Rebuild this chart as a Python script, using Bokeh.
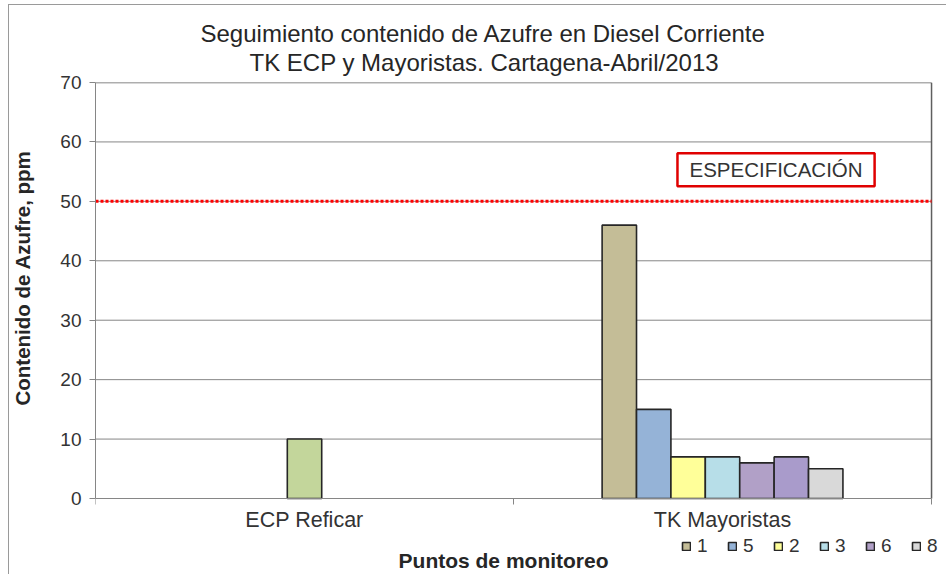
from bokeh.plotting import figure
from bokeh.models import Range1d, FixedTicker, Label, Legend, LegendItem, Title
from bokeh.embed import file_html
from bokeh.resources import INLINE

# ---------------- data ----------------
title_lines = ["Seguimiento contenido de Azufre en Diesel Corriente",
               "TK ECP y Mayoristas. Cartagena-Abril/2013"]
categories = ["ECP Reficar", "TK Mayoristas"]
ecp_category = "ECP Reficar"
ecp_value = 10
ecp_color = "#C3D69B"
tk_category = "TK Mayoristas"
tk_series = ["1", "5", "2", "3", "6", "7", "8"]
tk_values = [46, 15, 7, 7, 6, 7, 5]
tk_colors = ["#C4BD97", "#95B3D7", "#FFFF99", "#B7DEE8", "#B1A0C7", "#A99BCB", "#D9D9D9"]
legend_labels = ["1", "5", "2", "3", "6", "8"]
spec_value = 50
spec_text = "ESPECIFICACIÓN"
y_ticks = [0, 10, 20, 30, 40, 50, 60, 70]
x_label = "Puntos de monitoreo"
y_label = "Contenido de Azufre, ppm"

FONT = "Liberation Sans"
TXT = "#333333"
GRID = "#868686"
FRAME_LINE = "#9a9a9a"

# ---------------- layout (pixels, canvas coordinates) ----------------
SHIFT = 24                         # canvas starts this far left of the page margin
W, H = 962, 570
LEFT_PX, RIGHT_PX = 109, 947       # canvas x of category-axis start / end
TOP_PX, ZERO_PX = 78, 494          # canvas y of the top value line and of the 0-line
n_cat = len(categories)
y_max = y_ticks[-1]
y_min = -y_max * (H - ZERO_PX) / (ZERO_PX - TOP_PX)      # room below 0 for labels/legend
x_max = n_cat * (W - LEFT_PX) / (RIGHT_PX - LEFT_PX)     # room on the right for the legend
px_per_cat = (RIGHT_PX - LEFT_PX) / n_cat
px_per_y = (ZERO_PX - TOP_PX) / y_max

p = figure(width=W, height=H, output_backend="svg", toolbar_location=None,
           x_range=Range1d(0, x_max), y_range=Range1d(y_min, y_max),
           min_border_left=LEFT_PX, min_border_right=0, min_border_top=TOP_PX,
           min_border_bottom=0)
p.margin = (4, 0, 0, 8 - SHIFT)
p.styles = {"background": (f"linear-gradient({FRAME_LINE},{FRAME_LINE}) {SHIFT}px 0px / 100% 1px no-repeat, "
                           f"linear-gradient({FRAME_LINE},{FRAME_LINE}) {SHIFT}px 0px / 1px 100% no-repeat")}
p.background_fill_color = "white"
p.border_fill_alpha = 0
p.outline_line_color = None
p.xgrid.visible = False
p.ygrid.visible = False

# titles (left aligned with offsets so that they centre on the chart, last added is outermost)
title_offsets = [154, 105]
title_standoffs = [13, -12]
for line, off, so in zip(reversed(title_lines), title_offsets, title_standoffs):
    p.add_layout(Title(text=line, align="left", offset=off, text_font=FONT,
                       text_font_size="24px", text_font_style="normal",
                       text_color="#262626", standoff=so), "above")

# horizontal gridlines over the category span
grid_vals = y_ticks[1:-1]
p.segment(x0=[0] * len(grid_vals), y0=grid_vals, x1=[n_cat] * len(grid_vals), y1=grid_vals,
          line_color=GRID, line_width=1)

# bars
bw = 0.0823
n_slots = len(tk_series)
mid = (n_slots - 1) / 2
renderers = {}
tk_center = categories.index(tk_category) + 0.5
for i, (lab, val, col) in enumerate(zip(tk_series, tk_values, tk_colors)):
    r = p.vbar(x=[tk_center + (i - mid) * bw], top=[val], bottom=0, width=bw,
               fill_color=col, line_color="#262626", line_width=1.6)
    renderers[lab] = r
ecp_center = categories.index(ecp_category) + 0.5
p.vbar(x=[ecp_center], top=[ecp_value], bottom=0, width=bw,
       fill_color=ecp_color, line_color="#262626", line_width=1.6)

# plot-area border (top and right)
p.segment(x0=[0, n_cat], y0=[y_max, y_ticks[0]], x1=[n_cat, n_cat], y1=[y_max, y_max],
          line_color="#5f5f5f", line_width=1.5)

# specification line & label
p.segment(x0=[0], y0=[spec_value], x1=[n_cat], y1=[spec_value], line_color="#FF0000",
          line_width=3, line_dash="3 2")
p.add_layout(Label(x=tk_center + 0.128, y=spec_value + 5.3,
                   text=spec_text, text_align="center", text_baseline="middle",
                   text_font=FONT, text_font_size="20.5px", text_color=TXT,
                   border_line_color="#E00000", border_line_width=2.5,
                   background_fill_color="white", padding=dict(x=12, y=5)))

# x axis at value 0
xa = p.xaxis[0]
xa.fixed_location = 0
xa.bounds = (0, n_cat)
xa.ticker = FixedTicker(ticks=[i + 0.5 for i in range(n_cat)],
                        minor_ticks=list(range(n_cat + 1)))
xa.major_label_overrides = {i + 0.5: c for i, c in enumerate(categories)}
xa.major_tick_out = 0
xa.major_tick_in = 0
xa.minor_tick_out = 6
xa.minor_tick_in = 0
xa.minor_tick_line_color = GRID
xa.axis_line_color = GRID
xa.major_label_text_font = FONT
xa.major_label_text_font_size = "21.5px"
xa.major_label_text_color = TXT
xa.major_label_standoff = 3

# x axis title (below the category labels, slightly left of centre)
p.add_layout(Label(x=n_cat / 2 - 10 / px_per_cat, y=-62 / px_per_y, text=x_label,
                   text_align="center", text_baseline="middle", text_font=FONT,
                   text_font_size="21px", text_font_style="bold", text_color="#262626"))

# y axis limited to 0..70
ya = p.yaxis[0]
ya.bounds = (y_ticks[0], y_max)
ya.ticker = FixedTicker(ticks=y_ticks, minor_ticks=[])
ya.major_tick_out = 6
ya.major_tick_in = 0
ya.major_tick_line_color = GRID
ya.axis_line_color = GRID
ya.major_label_text_font = FONT
ya.major_label_text_font_size = "19px"
ya.major_label_text_color = TXT
ya.major_label_standoff = 8

p.add_layout(Title(text=y_label, align="left", offset=169, text_font=FONT,
                   text_font_size="20.5px", text_font_style="bold",
                   text_color="#262626", standoff=48), "left")

# legend (below the category labels, right side)
legend = Legend(items=[LegendItem(label=l, renderers=[renderers[l]]) for l in legend_labels],
                orientation="horizontal", location=(586, 17), padding=0, margin=0,
                spacing=10, glyph_width=10, glyph_height=10, label_standoff=6,
                label_width=20, label_text_font=FONT, label_text_font_size="19px",
                label_text_color=TXT, background_fill_alpha=0, border_line_alpha=0)
p.add_layout(legend)

open("out.html", "w").write(file_html(p, INLINE))
